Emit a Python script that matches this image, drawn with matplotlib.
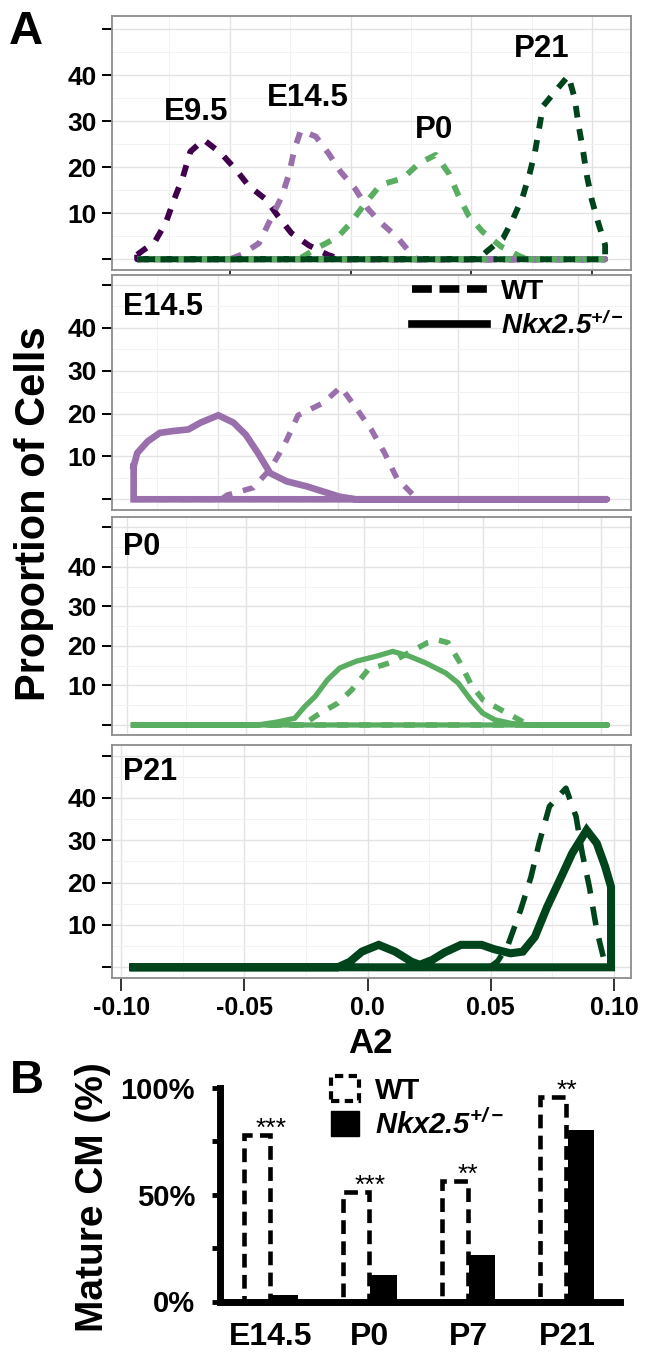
import numpy as np
import matplotlib
matplotlib.use('Agg')
import matplotlib.pyplot as plt
from matplotlib.ticker import MultipleLocator
from matplotlib.lines import Line2D
from matplotlib.patches import Patch

plt.rcParams['font.family'] = ['Liberation Sans', 'DejaVu Sans']
plt.rcParams['mathtext.fontset'] = 'custom'
plt.rcParams['mathtext.it'] = 'Liberation Sans:bold:italic'
plt.rcParams['mathtext.rm'] = 'Liberation Sans:bold:italic'
plt.rcParams['mathtext.bf'] = 'Liberation Sans:bold:italic'

# ---------------- data: panel A (top, WT overview) ----------------
top_stages = ['E9.5', 'E14.5', 'P0', 'P21']
top_colors = ['#40004B', '#9970AB', '#5AAE61', '#00441B']
e95_x = [-0.0883, -0.0810, -0.0764, -0.0730, -0.0693, -0.0663, -0.0608, -0.0535, -0.0473,
         -0.0422, -0.0350, -0.0299, -0.0245, -0.0172, -0.0096, -0.0040, 0.1053]
e95_y = [1, 3.8, 8, 13, 18, 23.4, 26, 23, 19.4, 16, 13, 9.3, 5.7, 3, 1, 0, 0]
e145_x = [-0.0883, -0.0500, -0.0451, -0.0379, -0.0333, -0.0285, -0.0255, -0.0232, -0.0206,
          -0.0144, -0.0091, -0.0041, 0.0018, 0.0073, 0.0124, 0.0191, 0.0242, 0.0275, 0.1053]
e145_y = [0, 0, 1, 3.5, 8.5, 13.6, 18.5, 24, 28, 26.7, 23, 19, 15.4, 10.9, 8, 4.9, 1.7, 0, 0]
p0_x = [-0.0883, -0.0250, -0.0206, -0.0130, -0.0054, 0.0002, 0.0061, 0.0124, 0.0216, 0.0284,
        0.0352, 0.0406, 0.0445, 0.0487, 0.0546, 0.0622, 0.0698, 0.0730, 0.1053]
p0_y = [0, 0, 0.3, 2.7, 4.8, 8, 12.2, 16.2, 17.6, 20.9, 22.7, 18.7, 14, 9.6, 6, 2.8, 0.7, 0, 0]
p21_x = [-0.0883, 0.0530, 0.0563, 0.0631, 0.0673, 0.0712, 0.0741, 0.0763, 0.0780, 0.0796,
         0.0851, 0.0901, 0.0927, 0.0943, 0.0961, 0.0977, 0.0998, 0.1023, 0.1053]
p21_y = [0, 0, 1.7, 4.6, 8.9, 13.6, 18.7, 23.4, 28.5, 33.3, 36.8, 39.9, 35, 29.2, 23.8, 18.3,
         12.9, 8.2, 3.1]
top_label_x = [-0.0637, -0.0178, 0.0346, 0.0789]
top_label_y = [30.3, 33.3, 26.3, 43.9]

# ---------------- data: WT vs Nkx2.5+/- per stage ----------------
wt_e145_x = [-0.0849, -0.0485, -0.0459, -0.0352, -0.0281, -0.0221, -0.0165, -0.0060, 0.0013,
             0.0080, 0.0139, 0.0195, 0.0246, 0.0314, 0.0348, 0.1122]
wt_e145_y = [0, 0, 1, 2.7, 7, 12.8, 19.6, 22.5, 26.2, 21, 16.3, 10.8, 4.9, 1, 0, 0]
nkx_e145_x = [-0.0849, -0.0834, -0.0791, -0.0740, -0.0689, -0.0621, -0.0570, -0.0497, -0.0434,
              -0.0383, -0.0332, -0.0281, -0.0213, -0.0128, -0.0060, 0.0008, 0.0076, 0.1122]
nkx_e145_y = [7.7, 10.8, 13.5, 15.5, 15.9, 16.3, 17.9, 19.6, 17.9, 15.1, 10.8, 6.1, 4.2, 3.0,
              1.8, 0.6, 0, 0]

wt_p0_x = [-0.0974, -0.0259, -0.0198, -0.0112, -0.0052, 0.0017, 0.0112, 0.0267, 0.0310, 0.0354,
           0.0405, 0.0448, 0.0500, 0.0578, 0.0655, 0.0690, 0.1026]
wt_p0_y = [0, 0, 2.5, 5.5, 8.9, 14, 15.8, 20.8, 21.5, 20.8, 15.7, 10.6, 6.4, 3.8, 1.3, 0, 0]
nkx_p0_x = [-0.0974, -0.0450, -0.0362, -0.0293, -0.0250, -0.0207, -0.0155, -0.0103, -0.0034,
            0.0052, 0.0121, 0.0190, 0.0259, 0.0345, 0.0397, 0.0449, 0.0500, 0.0552, 0.0621,
            0.0700, 0.1026]
nkx_p0_y = [0, 0, 0.8, 1.7, 4.7, 7.2, 11.4, 14.4, 16.1, 17.4, 18.6, 17.4, 15.7, 13.1, 10.6,
            6.4, 3.0, 1.3, 0.4, 0, 0]

wt_p21_x = [-0.0950, 0.0496, 0.0529, 0.0570, 0.0621, 0.0663, 0.0696, 0.0738, 0.0805, 0.0846,
            0.0871, 0.0900, 0.0930, 0.0963, 0.0988]
wt_p21_y = [0, 0, 1.5, 5.3, 13.5, 21.3, 29.3, 38, 42.3, 35.6, 27, 19, 8.8, 0.9, 0]
nkx_p21_x = [-0.0950, -0.0121, -0.0072, -0.0023, 0.0045, 0.0112, 0.0179, 0.0212, 0.0261, 0.0312,
             0.0379, 0.0463, 0.0512, 0.0580, 0.0630, 0.0679, 0.0729, 0.0780, 0.0830, 0.0889,
             0.0930, 0.0964, 0.0988]
nkx_p21_y = [0, 0, 1.3, 3.7, 5.3, 3.7, 1.3, 0.6, 1.7, 3.5, 5.3, 5.3, 4.3, 3.3, 3.7, 7.2, 14.3,
             20.6, 26.9, 32.4, 29.3, 23.8, 19]

a_yticks = [0, 10, 20, 30, 40, 50]
a_yticklabels = ['', '10', '20', '30', '40', '']
a_xticks = [-0.10, -0.05, 0.0, 0.05, 0.10]
a_xticklabels = ['-0.10', '-0.05', '0.0', '0.05', '0.10']

# ---------------- data: panel B ----------------
b_stages = ['E14.5', 'P0', 'P7', 'P21']
b_wt = [78, 51.5, 56.5, 96]
b_nkx = [3, 12.5, 22, 80.5]
b_stars = ['***', '***', '**', '**']
b_yticks = [0, 25, 50, 75, 100]
b_yticklabels = ['0%', '', '50%', '', '100%']

# ---------------- figure ----------------
W, H = 645, 1357
fig = plt.figure(figsize=(W / 100, H / 100), dpi=100)


def pax(l, t, r, b):
    return fig.add_axes([l / W, 1 - b / H, (r - l) / W, (b - t) / H])


def closed(x, y):
    x = np.asarray(x, float)
    y = np.asarray(y, float)
    return np.r_[x, x[-1], x[0], x[0]], np.r_[y, 0, 0, y[0]]


def style_a(ax, xlim, ylim, xtick_len=0.0):
    ax.set_xlim(*xlim)
    ax.set_ylim(*ylim)
    ax.xaxis.set_major_locator(MultipleLocator(0.05))
    ax.xaxis.set_minor_locator(MultipleLocator(0.025))
    ax.set_yticks(a_yticks, a_yticklabels)
    ax.yaxis.set_minor_locator(MultipleLocator(5))
    ax.grid(which='major', color='#e3e3e3', lw=1.0)
    ax.grid(which='minor', color='#f2f2f2', lw=0.7)
    ax.set_axisbelow(True)
    for s in ax.spines.values():
        s.set_color('#8c8c8c')
        s.set_linewidth(1.3)
    ax.tick_params(axis='y', which='major', length=7, width=1.4, color='black', pad=4,
                   labelsize=19)
    ax.tick_params(axis='x', which='major', length=xtick_len, width=1.4, color='#333333',
                   labelbottom=False)
    ax.tick_params(which='minor', length=0)
    for lab in ax.get_yticklabels():
        lab.set_fontweight('bold')


dash_a = (0, (2.0, 2.0))
RIGHT = 631

# Panel 1: WT overview
ax1 = pax(112, 16, RIGHT, 270)
style_a(ax1, (-0.0987, 0.116), (-2.33, 52.9), xtick_len=6)
for (x, y), c in zip([(e95_x, e95_y), (e145_x, e145_y), (p0_x, p0_y), (p21_x, p21_y)],
                     top_colors):
    cx, cy = closed(x, y)
    ax1.plot(cx, cy, color=c, lw=4.2, ls=dash_a, dash_capstyle='butt')
for s, lx, ly in zip(top_stages, top_label_x, top_label_y):
    ax1.text(lx, ly, s, ha='center', va='baseline', fontsize=22.5, fontweight='bold')

panels = [
    ((112, 275, RIGHT, 509.5), (-0.0939, 0.122), (-2.38, 52.33), 'E14.5', top_colors[1],
     (wt_e145_x, wt_e145_y), (nkx_e145_x, nkx_e145_y), 4.8, dash_a, -29),
    ((112, 517.3, RIGHT, 735), (-0.1064, 0.1126), (-2.53, 52.5), 'P0', top_colors[2],
     (wt_p0_x, wt_p0_y), (nkx_p0_x, nkx_p0_y), 3.8, dash_a, -27),
    ((112, 745, RIGHT, 978.3), (-0.1037, 0.1069), (-2.6, 52.5), 'P21', top_colors[3],
     (wt_p21_x, wt_p21_y), (nkx_p21_x, nkx_p21_y), 5.8, (0, (3.4, 2.4)), -25),
]
axes_a = []
for box, xl, yl, name, col, wt, nkx, lw_s, dsh, ty in panels:
    ax = pax(*box)
    style_a(ax, xl, yl)
    cx, cy = closed(*wt)
    ax.plot(cx, cy, color=col, lw=4.0, ls=dsh, dash_capstyle='butt')
    cx, cy = closed(*nkx)
    ax.plot(cx, cy, color=col, lw=lw_s, solid_joinstyle='miter')
    ax.annotate(name, xy=(0, 1), xycoords='axes fraction', xytext=(8, ty),
                textcoords='offset points', ha='left', va='baseline', fontsize=22,
                fontweight='bold')
    axes_a.append(ax)

ax2, ax3, ax4 = axes_a
leg_handles = [Line2D([], [], color='black', lw=5.5, ls=(0, (2.6, 1.0))),
               Line2D([], [], color='black', lw=5.5)]
ax2.legend(leg_handles, ['WT', r'$\mathit{Nkx2.5}^{\mathit{+/-}}$'],
           loc='upper left', bbox_to_anchor=(0.578, 0.985), frameon=False,
           borderpad=0, borderaxespad=0, handlelength=2.7, handletextpad=0.5,
           labelspacing=0.25, prop={'size': 20, 'weight': 'bold'})

ax4.set_xticks(a_xticks, a_xticklabels)
ax4.tick_params(axis='x', which='major', length=9.4, width=1.4, color='#333333',
                labelbottom=True, labelsize=18, pad=3)
for lab in ax4.get_xticklabels():
    lab.set_fontweight('bold')

fig.text(45 / W, 1 - 514 / H, 'Proportion of Cells', rotation=90, rotation_mode='anchor',
         ha='center', va='baseline', fontsize=30, fontweight='bold')
fig.text(370 / W, 1 - 1053 / H, 'A2', ha='center', va='baseline', fontsize=25,
         fontweight='bold')
fig.text(9 / W, 1 - 44 / H, 'A', ha='left', va='baseline', fontsize=34, fontweight='bold')
fig.text(10 / W, 1 - 1093 / H, 'B', ha='left', va='baseline', fontsize=34, fontweight='bold')

# ---------------- Panel B ----------------
axb = pax(220, 1088, 620, 1301.5)
xb = np.arange(len(b_stages))
axb.set_xlim(-0.517, 3.536)
axb.set_ylim(0, 100)
axb.bar(xb - 0.14, b_wt, width=0.265, facecolor='white', edgecolor='black', lw=3.3,
        ls=(0, (3, 1.6)), zorder=2)
axb.bar(xb + 0.14, b_nkx, width=0.265, color='black', zorder=2)
for xi, v, s in zip(xb, b_wt, b_stars):
    axb.text(xi, v - 0.5, s, ha='center', va='baseline', fontsize=19)
for side in ['top', 'right']:
    axb.spines[side].set_visible(False)
for side in ['left', 'bottom']:
    axb.spines[side].set_linewidth(5)
    axb.spines[side].set_capstyle('projecting')
axb.set_yticks(b_yticks, b_yticklabels)
axb.set_xticks(xb, b_stages)
axb.tick_params(axis='y', length=6, width=3.5, pad=12, labelsize=21)
axb.tick_params(axis='x', length=0, pad=15, labelsize=23)
for lab in axb.get_yticklabels() + axb.get_xticklabels():
    lab.set_fontweight('bold')
axb.set_ylabel('Mature CM (%)', fontsize=28, fontweight='bold')
axb.yaxis.set_label_coords((103 - 220) / 400, 0.49)
axb.yaxis.label.set_rotation_mode('anchor')
axb.yaxis.label.set_verticalalignment('baseline')

b_handles = [Patch(facecolor='white', edgecolor='black', lw=3, ls=(0, (2, 1.3))),
             Patch(facecolor='black', edgecolor='black')]
axb.legend(b_handles, ['WT', r'$\mathit{Nkx2.5}^{\mathit{+/-}}$'], loc='upper left',
           bbox_to_anchor=((331 - 220) / 400, (1301.5 - 1076) / 213.5), frameon=False,
           borderpad=0, borderaxespad=0, handlelength=0.95, handleheight=0.95,
           handletextpad=0.55, labelspacing=0.15, prop={'size': 21, 'weight': 'bold'})

fig.savefig('out.png', dpi=100)
